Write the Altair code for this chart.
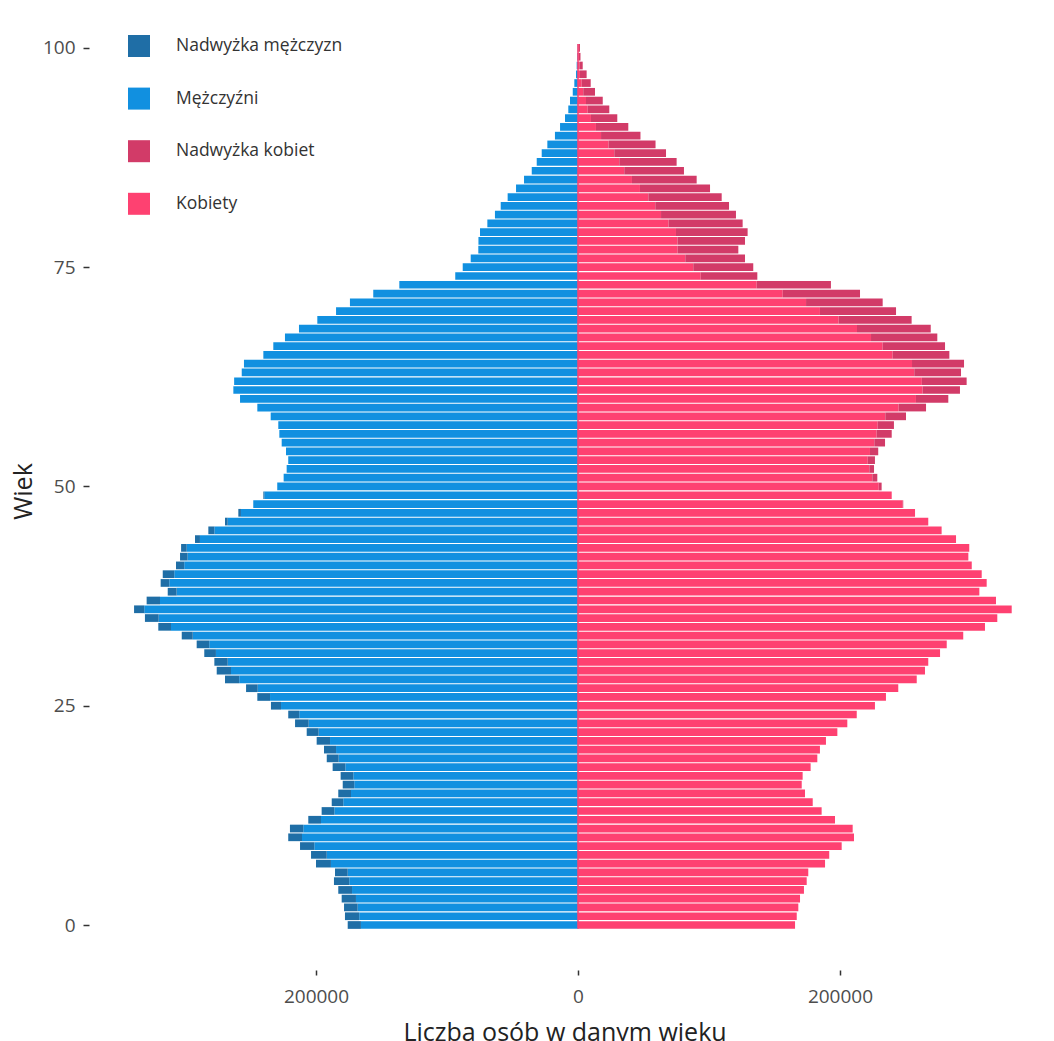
import altair as alt
import pandas as pd

# Age groups 0..100
ages = list(range(0, 101))

# Men per age
men = [175800, 177900, 178600, 180400, 183000, 186300, 185500, 200000, 203800, 212200,
       221200, 219900, 205900, 195700, 188000, 183000, 179600, 181200, 187300, 191800,
       193900, 199500, 207100, 216000, 221200, 234400, 244800, 253400, 269500, 275800,
       277600, 285300, 291100, 302500, 320400, 330600, 338900, 329300, 313200, 318600,
       317000, 306900, 303800, 303000, 292400, 282200, 269500, 259300, 247900, 240200,
       229600, 224700, 222400, 221200, 222900, 226200, 228000, 228800, 234600, 244800,
       258000, 263100, 262500, 256700, 255000, 240200, 232600, 223700, 213000, 199000,
       184700, 174100, 156300, 136400, 93700, 88000, 81900, 76100, 76000, 74800,
       69200, 63400, 59000, 53700, 47300, 41200, 35300, 31500, 27700, 23400,
       17600, 13700, 9900, 7400, 6100, 4000, 2800, 1500, 1000, 600,
       300]

# Women per age
women = [165700, 167000, 168200, 169500, 172500, 174600, 175800, 188600, 191800, 201300,
         210700, 209700, 196200, 186000, 179200, 173300, 170800, 171500, 177600, 182700,
         184700, 189300, 198000, 205600, 212800, 226700, 235100, 244500, 258600, 264900,
         267400, 276400, 281500, 294100, 310700, 320100, 331100, 319100, 306400, 312000,
         308200, 300600, 298000, 298700, 288600, 277600, 267400, 257300, 248300, 239500,
         231800, 228500, 226000, 226700, 229200, 234400, 239500, 241200, 250400, 265700,
         282700, 291600, 296700, 292400, 294700, 283500, 280200, 274300, 269300, 254700,
         242800, 232600, 215300, 193100, 136900, 133800, 127500, 122400, 127500, 129500,
         125700, 120600, 115300, 109700, 100800, 90600, 80900, 75300, 67200, 59200,
         47700, 38400, 30000, 23900, 18900, 13000, 9700, 6600, 3600, 1900,
         1500]

groups = ["Nadwyżka mężczyzn", "Mężczyźni", "Nadwyżka kobiet", "Kobiety"]
colors = ["#1f6ea6", "#1190e0", "#d23b68", "#fe4171"]
x_ticks = [-200000, 0, 200000]
y_ticks = [0, 25, 50, 75, 100]

rows = []
for a, m, f in zip(ages, men, women):
    base = min(m, f)
    rows.append({"age": a, "grupa": "Mężczyźni", "value": -base, "ord": 0})
    rows.append({"age": a, "grupa": "Nadwyżka mężczyzn", "value": -(m - base), "ord": 1})
    rows.append({"age": a, "grupa": "Kobiety", "value": base, "ord": 0})
    rows.append({"age": a, "grupa": "Nadwyżka kobiet", "value": f - base, "ord": 1})
df = pd.DataFrame(rows)

yscale = alt.Scale(domain=[-5.13, 104.1], nice=False, zero=False)
xscale = alt.Scale(domain=[-373300, 352700], nice=False)

bars = alt.Chart(df).transform_stack(
    stack="value",
    groupby=["age"],
    as_=["x0", "x1"],
    sort=[alt.SortField("ord", order="ascending")],
    offset="zero",
).transform_calculate(
    y_lo="datum.age - 0.44", y_hi="datum.age + 0.44"
).mark_bar().encode(
    x=alt.X(
        "x0:Q",
        scale=xscale,
        axis=alt.Axis(
            values=x_ticks,
            labelExpr="format(abs(datum.value), 'd')",
            title="Liczba osób w danym wieku",
            grid=False,
            domain=False,
            ticks=True,
            tickSize=5,
            tickWidth=1.5,
            tickColor="#333333",
            labelFontSize=19,
            labelColor="#4d4d4d",
            labelPadding=12,
            titleFontSize=25,
            titleFontWeight="normal",
            titleColor="#222222",
            titlePadding=14,
        ),
    ),
    x2="x1:Q",
    y=alt.Y(
        "y_lo:Q",
        scale=yscale,
        axis=alt.Axis(
            values=y_ticks,
            format="d",
            title="Wiek",
            grid=False,
            domain=False,
            tickSize=6,
            tickWidth=1.5,
            tickColor="#333333",
            labelFontSize=19,
            labelColor="#4d4d4d",
            labelPadding=8,
            titleFontSize=25,
            titleFontWeight="normal",
            titleColor="#222222",
            titlePadding=6,
        ),
    ),
    y2="y_hi:Q",
    color=alt.Color(
        "grupa:N",
        scale=alt.Scale(domain=groups, range=colors),
        legend=alt.Legend(
            title=None,
            orient="none",
            legendX=39,
            legendY=23,
            symbolType="square",
            symbolSize=484,
            symbolStrokeWidth=0,
            symbolOpacity=1,
            labelFontSize=17.5,
            labelColor="#333333",
            labelOffset=26,
            labelLimit=0,
            rowPadding=30.6,
            padding=0,
        ),
    ),
)

center = alt.Chart(pd.DataFrame({"top": [max(ages)], "bottom": [min(ages)]})).transform_calculate(
    y_top="datum.top + 0.44", y_bot="datum.bottom - 0.44"
).mark_rule(color="#fe4171", strokeWidth=1.5).encode(
    x=alt.datum(0),
    y=alt.Y("y_top:Q", scale=yscale),
    y2="y_bot:Q",
)

chart = (
    alt.layer(bars, center)
    .properties(
        width=951,
        height=958,
        autosize=alt.AutoSizeParams(type="none"),
        padding={"left": 81, "top": 4, "right": 0, "bottom": 71},
        background="white",
    )
    .configure(font="Open Sans", view=alt.ViewConfig(stroke=None))
)

chart.save("out.html", embed_options={"renderer": "svg", "actions": False})
